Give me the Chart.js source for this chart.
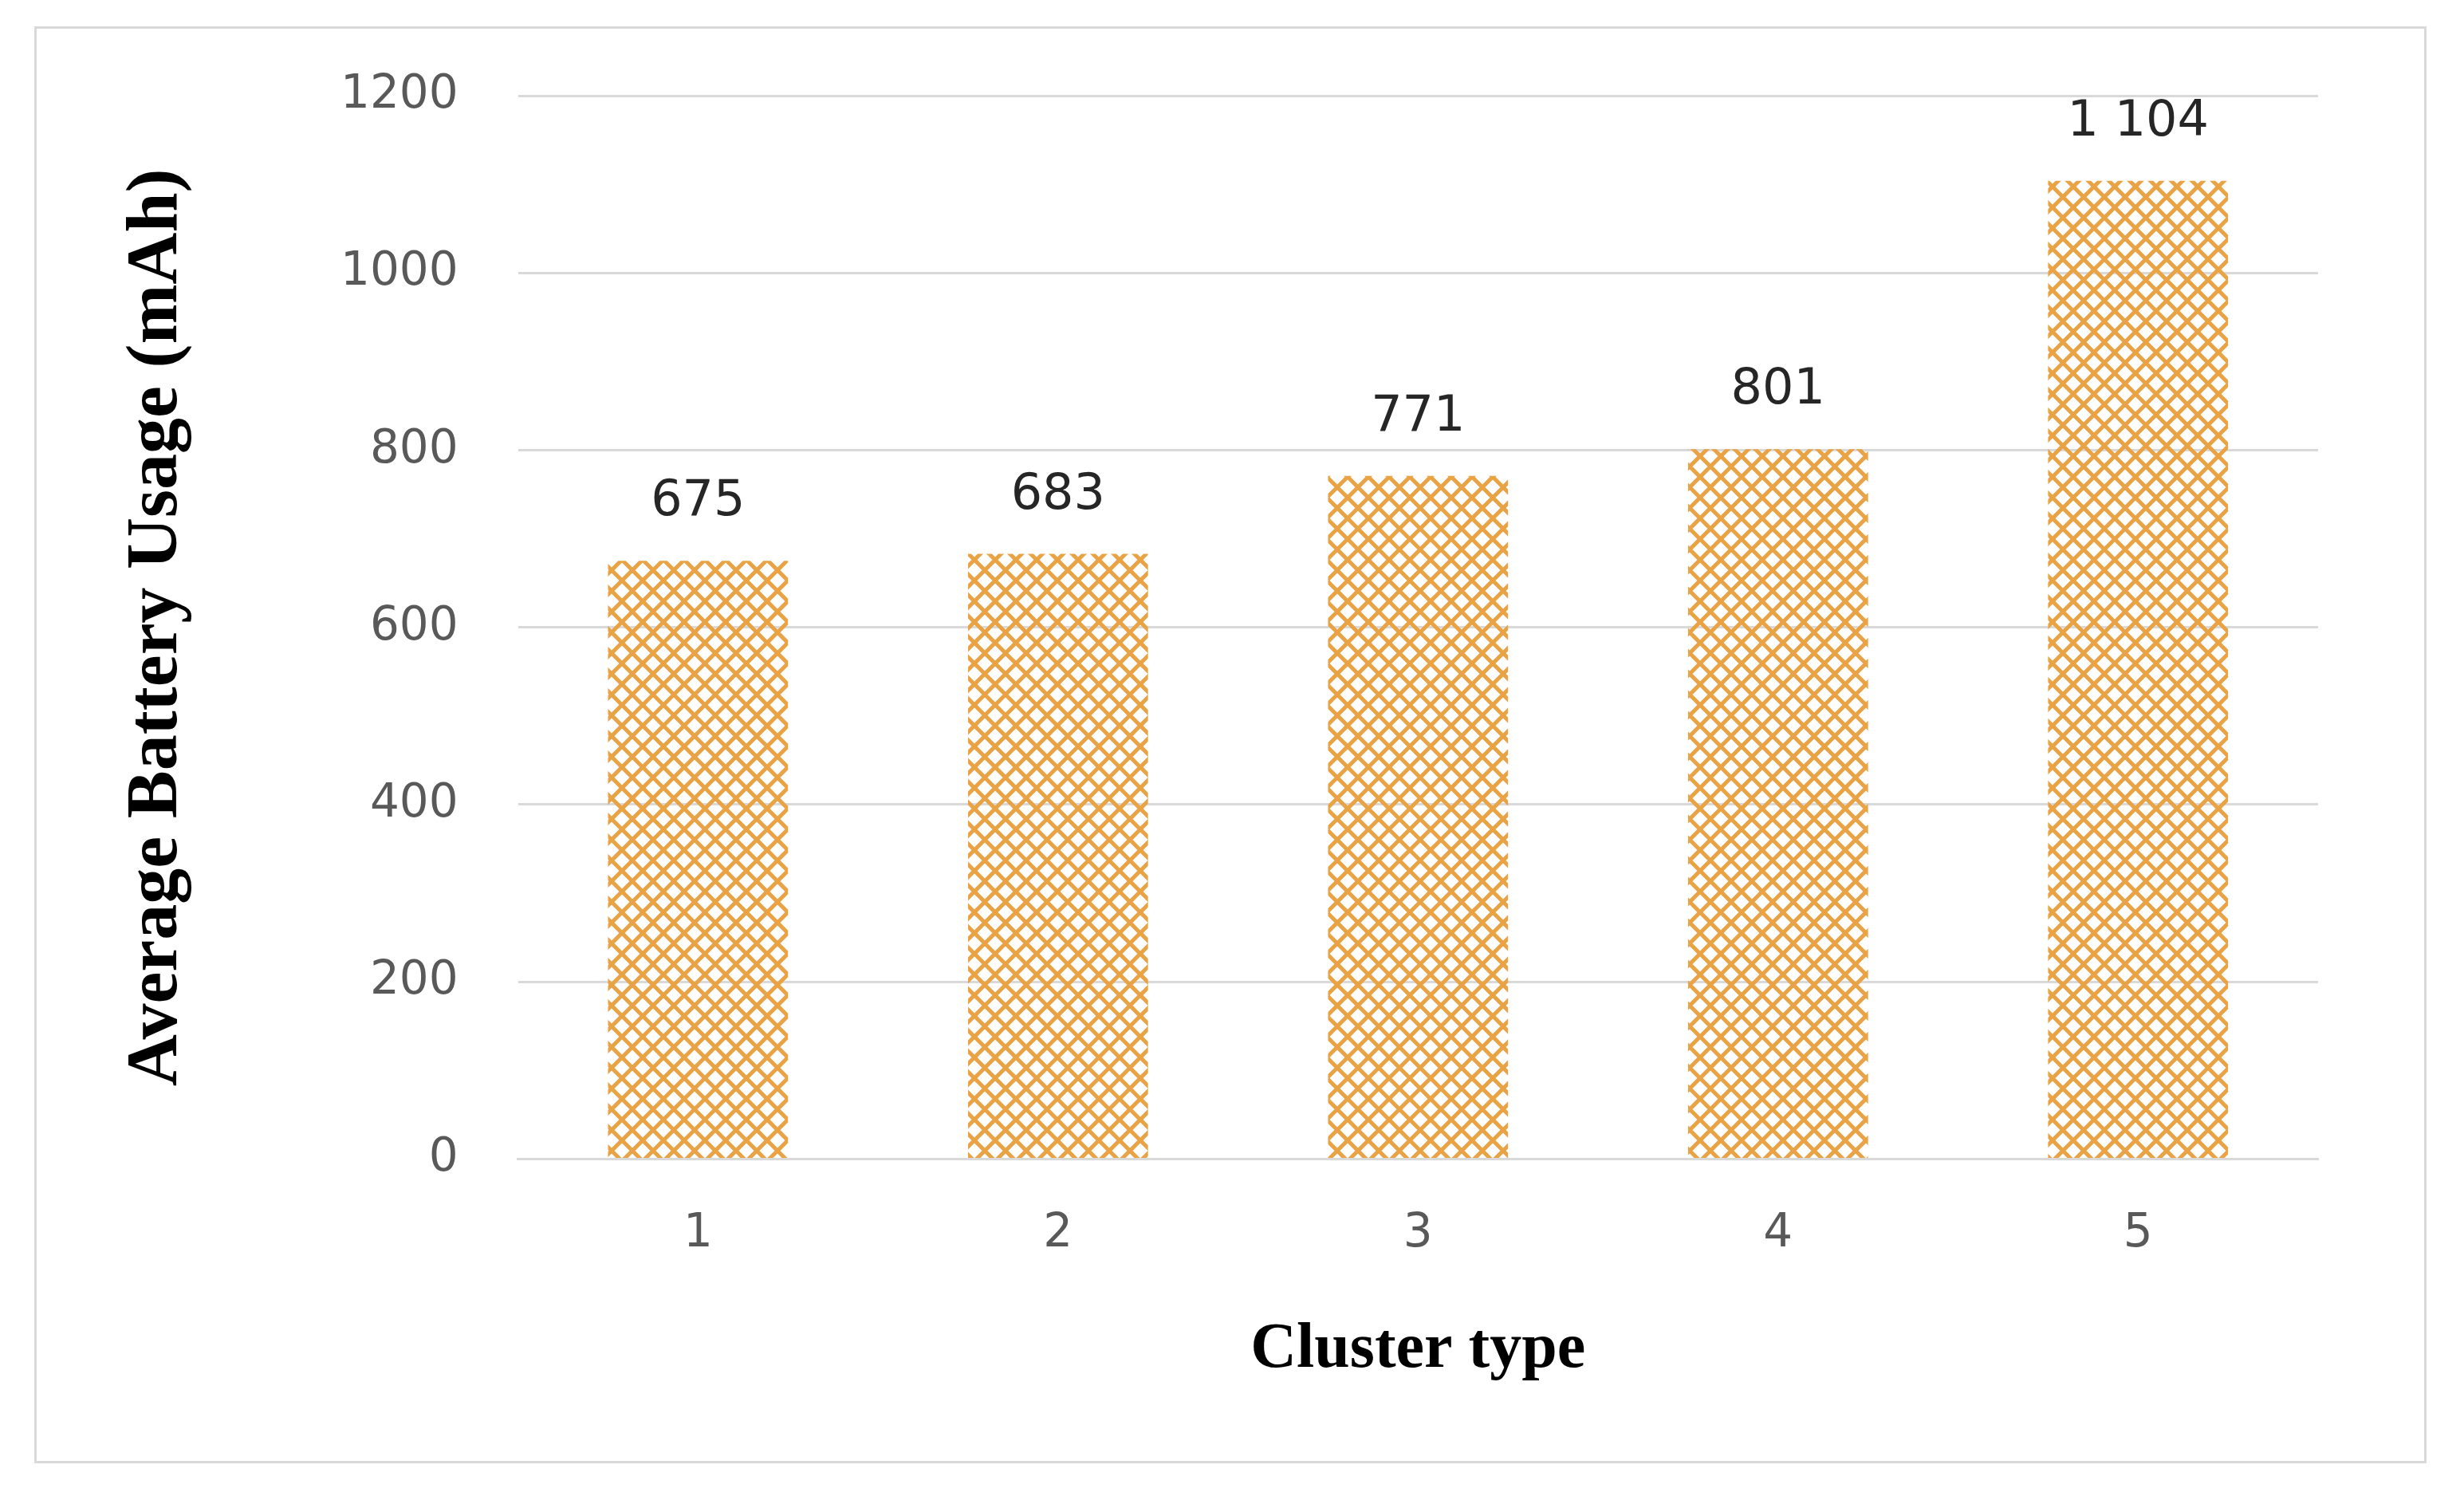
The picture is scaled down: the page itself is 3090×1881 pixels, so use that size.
<!DOCTYPE html>
<html>
<head>
<meta charset="utf-8">
<script src="https://cdn.jsdelivr.net/npm/chart.js@4"></script>
<style>
  html, body { margin: 0; padding: 0; background: #fff; }
  #frame { position: absolute; left: 43px; top: 33px; width: 3000px; height: 1802px; border: 3px solid #d9d9d9; box-sizing: border-box; }
  #wrap { position: absolute; left: 0; top: 0; width: 3090px; height: 1881px; }
</style>
</head>
<body>
<div id="frame"></div>
<div id="wrap"><canvas id="myChart" width="3090" height="1881"></canvas></div>
<script>
  var categories = ['1', '2', '3', '4', '5'];
  var usage = [675, 683, 771, 801, 1104];
  var yTicks = [0, 200, 400, 600, 800, 1000, 1200];

  function makeHatch() {
    var c = document.createElement('canvas');
    c.width = 26; c.height = 26;
    var g = c.getContext('2d');
    g.strokeStyle = '#e9a345';
    g.lineWidth = 5;
    g.beginPath();
    g.moveTo(-2, -2); g.lineTo(28, 28);
    g.moveTo(28, -2); g.lineTo(-2, 28);
    g.moveTo(-15, 11); g.lineTo(15, 41);
    g.moveTo(11, -15); g.lineTo(41, 15);
    g.moveTo(41, 11); g.lineTo(11, 41);
    g.moveTo(15, -15); g.lineTo(-15, 15);
    g.stroke();
    return document.getElementById('myChart').getContext('2d').createPattern(c, 'repeat');
  }

  const valueLabels = {
    id: 'valueLabels',
    afterDatasetsDraw(chart) {
      const ctx = chart.ctx;
      const meta = chart.getDatasetMeta(0);
      ctx.save();
      ctx.font = '62px "DejaVu Sans"';
      ctx.fillStyle = '#262626';
      ctx.textAlign = 'center';
      ctx.textBaseline = 'bottom';
      meta.data.forEach((bar, i) => {
        const v = usage[i];
        const txt = v >= 1000 ? Math.floor(v / 1000) + ' ' + String(v % 1000).padStart(3, '0') : String(v);
        ctx.fillText(txt, bar.x, bar.y - 42);
      });
      ctx.restore();
    }
  };

  const config = {
    type: 'bar',
    data: {
      labels: categories,
      datasets: [{
        data: usage,
        backgroundColor: makeHatch(),
        borderWidth: 0,
        categoryPercentage: 1,
        barPercentage: 0.5
      }]
    },
    options: {
      responsive: false,
      animation: false,
      layout: { padding: { left: 140, right: 183, top: 120, bottom: 136 } },
      plugins: { legend: { display: false }, tooltip: { enabled: false } },
      scales: {
        x: {
          grid: { display: false },
          border: { color: '#d9d9d9', width: 3 },
          ticks: { color: '#595959', font: { size: 58, family: 'DejaVu Sans' }, padding: 52 },
          title: { display: true, text: 'Cluster type', color: '#000', font: { size: 80, weight: 'bold', family: 'Liberation Serif' }, padding: { top: 10 } }
        },
        y: {
          min: 0, max: 1200,
          afterBuildTicks(axis) { axis.ticks = yTicks.map(v => ({ value: v })); },
          grid: { color: '#d9d9d9', lineWidth: 3, drawTicks: false },
          border: { display: false },
          ticks: { color: '#595959', font: { size: 58, family: 'DejaVu Sans' }, padding: 75, callback: v => String(v) },
          title: { display: true, text: 'Average Battery Usage (mAh)', color: '#000', font: { size: 90, weight: 'bold', family: 'Liberation Serif' }, padding: { bottom: 100 } }
        }
      }
    },
    plugins: [valueLabels]
  };

  new Chart(document.getElementById('myChart'), config);
</script>
</body>
</html>
